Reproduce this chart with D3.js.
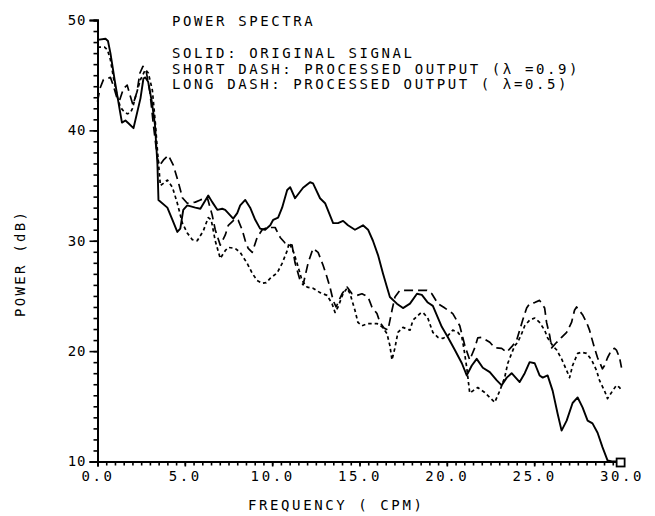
<!DOCTYPE html>
<html>
<head>
<meta charset="utf-8">
<script src="https://cdn.jsdelivr.net/npm/d3@7/dist/d3.min.js"></script>
<style>
  html, body { margin: 0; padding: 0; background: #fff; }
  svg text { font-family: "DejaVu Sans Mono", "Liberation Mono", monospace; fill: #000; }
</style>
</head>
<body>
<svg id="chart" width="655" height="516"></svg>
<script>
// Frequency axis (cycles per minute) and power axis (dB)
const xDomain = [0, 30];
const yDomain = [10, 50];
const xMajorTicks = [0, 5, 10, 15, 20, 25, 30];
const yMajorTicks = [10, 20, 30, 40, 50];

// Original signal spectrum (solid)
const solidFreq = [0, 0.46, 0.6, 0.74, 1.0, 1.29, 1.4, 1.6, 1.77, 2.06, 2.46, 2.63, 2.74, 2.9, 3.11, 3.29, 3.43, 3.49,
  4.0, 4.29, 4.57, 4.74, 4.91, 5.14, 5.6, 5.89, 6.34, 6.57, 6.86, 7.14, 7.31, 7.6, 7.77, 8.0, 8.17, 8.46, 8.74,
  9.03, 9.31, 9.6, 9.89, 10.06, 10.34, 10.57, 10.86, 11.03, 11.31, 11.77, 12.17, 12.34, 12.74, 13.03, 13.49,
  13.77, 14.06, 14.34, 14.74, 15.2, 15.49, 15.77, 16.06, 16.34, 16.57, 16.74, 17.14, 17.49, 17.89, 18.29,
  18.57, 18.91, 19.2, 19.71, 20.06, 20.46, 20.86, 21.14, 21.43, 21.71, 22.06, 22.46, 22.86, 23.14, 23.43,
  23.71, 24.17, 24.46, 24.74, 25.03, 25.31, 25.49, 25.77, 26.06, 26.34, 26.57, 26.86, 27.2, 27.49, 27.77,
  28.06, 28.34, 28.63, 28.91, 29.2, 29.45, 30];
const solidPower = [48.2, 48.3, 48.1, 47.0, 44.4, 41.7, 40.7, 40.9, 40.65, 40.2, 42.9, 44.7, 44.8, 44.4, 42.6, 40.5, 37.0, 33.7,
  33.0, 31.9, 30.8, 31.1, 32.8, 33.2, 33.0, 32.9, 34.1, 33.5, 32.8, 32.9, 32.8, 32.3, 32.0, 32.5, 33.2, 33.7, 33.0,
  31.9, 31.1, 31.0, 31.4, 31.9, 32.1, 33.0, 34.6, 34.85, 33.85, 34.8, 35.3, 35.2, 33.85, 33.4, 31.6,
  31.6, 31.8, 31.4, 31.0, 31.4, 31.0, 30.0, 28.7, 27.05, 25.8, 24.9, 24.3, 23.9, 24.3, 25.2,
  25.1, 24.4, 24.1, 22.2, 21.25, 20.1, 18.9, 17.8, 18.7, 19.3, 18.5, 18.1, 17.35, 16.9, 17.6,
  18.0, 17.2, 18.0, 19.0, 18.9, 17.8, 17.6, 17.8, 16.4, 14.35, 12.8, 13.7, 15.3, 15.8, 14.9,
  13.7, 13.45, 12.6, 11.3, 10.1, 10.0, 10.0];

// Processed output, lambda = 0.9 (short dash)
const shortFreq = [0, 0.4, 0.57, 0.74, 0.91, 1.14, 1.31, 1.49, 1.71, 1.89, 2.0, 2.17, 2.46, 2.74, 2.91, 3.14, 3.31, 3.43, 3.6,
  3.77, 4.0, 4.29, 4.57, 4.86, 5.14, 5.43, 5.71, 6.06, 6.34, 6.51, 6.74, 7.03, 7.31, 7.49, 7.89, 8.17, 8.57, 8.86,
  9.14, 9.43, 9.66, 9.89, 10.29, 10.57, 10.86, 10.97, 11.2, 11.43, 11.71, 12.0, 12.34, 12.74, 13.14, 13.43, 13.6,
  13.77, 14.06, 14.29, 14.46, 14.74, 14.91, 15.14, 15.49, 16.0, 16.29, 16.57, 16.74, 16.86, 17.03, 17.2, 17.49,
  17.89, 18.06, 18.46, 18.63, 18.91, 19.2, 19.49, 19.77, 20.06, 20.34, 20.63, 20.86, 20.97, 21.14, 21.31, 21.49,
  21.77, 22.17, 22.46, 22.74, 23.03, 23.31, 23.49, 23.71, 23.89, 24.06, 24.29, 24.46, 24.74, 25.03, 25.31, 25.6,
  25.77, 26.06, 26.29, 26.57, 26.86, 27.03, 27.2, 27.49, 27.71, 28.0, 28.29, 28.57, 28.74, 29.03, 29.2, 29.49,
  29.71, 29.89, 30];
const shortPower = [47.55, 47.55, 47.3, 46.4, 44.8, 43.0, 42.1, 41.75, 41.5, 41.6, 42.0, 43.0, 44.6, 45.5, 45.2, 43.65, 40.7, 38.2, 35.0,
  35.2, 35.5, 34.85, 33.4, 31.6, 30.7, 30.1, 30.0, 30.9, 32.1, 31.9, 30.0, 28.4, 29.1, 29.4, 29.3, 28.95, 27.95, 27.05,
  26.4, 26.15, 26.2, 26.6, 27.1, 27.95, 29.1, 29.8, 29.1, 27.95, 26.4, 25.8, 25.7, 25.3, 25.05, 24.3, 23.5,
  24.0, 25.2, 25.7, 25.2, 23.7, 22.6, 22.3, 22.5, 22.5, 22.2, 21.6, 20.5, 19.2, 20.3, 21.7, 22.15,
  21.9, 22.8, 23.4, 23.5, 23.0, 21.7, 21.25, 21.15, 21.4, 21.9, 21.7, 21.25, 20.3, 18.5, 16.2, 16.4,
  16.7, 16.25, 15.8, 15.35, 16.4, 17.6, 18.9, 19.8, 20.5, 20.8, 21.6, 22.3, 22.8, 23.0, 22.6, 21.9,
  21.2, 20.5, 20.1, 19.3, 18.25, 17.6, 18.7, 19.8, 19.9, 19.8, 19.2, 18.25, 17.35, 16.4, 15.7, 16.4,
  16.9, 16.7, 16.4];

// Processed output, lambda = 0.5 (long dash)
const longFreq = [0, 0.14, 0.34, 0.6, 0.74, 0.9, 1.1, 1.26, 1.49, 1.7, 1.86, 2.03, 2.26, 2.43, 2.6, 2.77, 3.0, 3.2, 3.43, 3.54,
  3.77, 4.06, 4.34, 4.63, 4.86, 5.14, 5.6, 5.89, 6.29, 6.57, 6.74, 7.03, 7.31, 7.49, 7.89, 8.06, 8.29, 8.46, 8.63,
  8.86, 9.14, 9.43, 9.71, 10.17, 10.46, 10.74, 11.14, 11.31, 11.6, 11.77, 12.06, 12.34, 12.63, 12.91, 13.14, 13.31,
  13.49, 13.66, 14.0, 14.29, 14.57, 14.86, 15.14, 15.49, 15.71, 16.0, 16.17, 16.4, 16.63, 16.86, 17.03, 17.31,
  17.77, 18.34, 18.86, 19.14, 19.49, 19.89, 20.34, 20.74, 21.03, 21.31, 21.6, 21.77, 22.0, 22.46, 22.74, 23.14,
  23.43, 23.77, 24.0, 24.17, 24.34, 24.57, 24.74, 25.03, 25.31, 25.6, 25.71, 25.89, 26.0, 26.29, 26.57, 26.86,
  27.14, 27.31, 27.43, 27.77, 28.0, 28.17, 28.29, 28.46, 28.63, 28.91, 29.03, 29.2, 29.43, 29.6, 29.71, 29.89, 30];
const longPower = [42.6, 43.8, 44.6, 44.7, 44.8, 44.1, 43.0, 42.7, 43.8, 44.1, 43.2, 42.3, 43.5, 45.2, 45.8, 45.5, 43.5, 40.5, 37.5, 36.8,
  37.3, 37.75, 36.85, 35.3, 33.9, 33.4, 33.5, 33.7, 33.9, 32.3, 31.0, 29.6, 30.5, 31.4, 32.0, 31.85, 30.95, 30.0, 29.3,
  28.95, 30.3, 31.0, 31.2, 31.2, 30.3, 29.8, 29.6, 28.0, 26.4, 26.0, 28.0, 29.3, 28.95, 27.8, 26.7, 25.8,
  24.6, 24.0, 25.2, 25.8, 25.2, 25.05, 25.2, 24.9, 24.0, 23.4, 22.6, 22.1, 21.9, 23.7, 24.9, 25.5,
  25.5, 25.5, 25.5, 25.2, 24.3, 23.9, 23.4, 22.3, 20.5, 19.2, 20.3, 21.2, 21.25, 20.8, 20.3, 20.25,
  19.9, 20.5, 21.0, 21.9, 22.8, 23.9, 24.3, 24.4, 24.6, 23.9, 22.6, 21.4, 20.3, 20.8, 21.25, 21.7,
  22.6, 23.7, 24.0, 23.3, 22.6, 21.9, 21.2, 20.25, 19.4, 18.4, 18.7, 19.4, 20.1, 20.25, 20.1, 19.4, 18.5];

const legendLines = [
  "SOLID: ORIGINAL SIGNAL",
  "SHORT DASH: PROCESSED OUTPUT (\u03bb =0.9)",
  "LONG DASH: PROCESSED OUTPUT ( \u03bb=0.5)"
];

const svg = d3.select("#chart");
const plot = { left: 97.5, right: 621.5, top: 20, bottom: 461.5 };

const x = d3.scaleLinear().domain(xDomain).range([plot.left, plot.right]);
const y = d3.scaleLinear().domain(yDomain).range([plot.bottom, plot.top]);

const letter = 2.6;

// Y axis: minor ticks every 1 dB, labelled majors every 10 dB
const yMinor = svg.append("g").attr("transform", `translate(${plot.left},0)`)
  .call(d3.axisLeft(y).tickValues(d3.range(10, 51, 1)).tickSize(4).tickFormat(""));
const yMajor = svg.append("g").attr("transform", `translate(${plot.left},0)`)
  .call(d3.axisLeft(y).tickValues(yMajorTicks).tickSize(8).tickPadding(3).tickFormat(d3.format("d")));

// X axis: minor ticks every 0.5, labelled majors every 5
const xMinor = svg.append("g").attr("transform", `translate(0,${plot.bottom})`)
  .call(d3.axisBottom(x).tickValues(d3.range(0, 30.01, 0.5)).tickSize(4).tickFormat(""));
const xMajor = svg.append("g").attr("transform", `translate(0,${plot.bottom})`)
  .call(d3.axisBottom(x).tickValues(xMajorTicks).tickSize(5).tickPadding(5).tickFormat(d3.format(".1f")));

[yMinor, yMajor, xMinor, xMajor].forEach(g => {
  g.select(".domain").attr("stroke", "#000").attr("stroke-width", 2);
  g.selectAll(".tick line").attr("stroke", "#000").attr("stroke-width", 1.6);
});
yMajor.selectAll(".tick text").attr("font-size", 14).attr("letter-spacing", 1).style("font-family", "DejaVu Sans Mono");
xMajor.selectAll(".tick text").attr("font-size", 14).attr("letter-spacing", letter).style("font-family", "DejaVu Sans Mono");

// Spectrum curves
const line = d3.line().x(d => x(d[0])).y(d => y(d[1]));
const series = [
  { f: solidFreq, p: solidPower, dash: null, w: 1.9 },
  { f: shortFreq, p: shortPower, dash: "3.5,3", w: 1.7 },
  { f: longFreq, p: longPower, dash: "9,5", w: 1.7 }
];
series.forEach(s => {
  svg.append("path")
    .datum(s.f.map((v, i) => [v, s.p[i]]))
    .attr("d", line)
    .attr("fill", "none")
    .attr("stroke", "#000")
    .attr("stroke-width", s.w)
    .attr("stroke-linejoin", "round")
    .attr("stroke-dasharray", s.dash);
});

// End marker of the original signal trace
svg.append("rect")
  .attr("x", x(29.95) - 4).attr("y", y(10) - 3)
  .attr("width", 8).attr("height", 8)
  .attr("fill", "#fff").attr("stroke", "#000").attr("stroke-width", 1.8);

// Title and legend text
svg.append("text").attr("x", 172).attr("y", 26)
  .attr("font-size", 14).attr("letter-spacing", letter).text("POWER SPECTRA");
legendLines.forEach((t, i) => {
  svg.append("text").attr("x", 172).attr("y", 58 + i * 15.5)
    .attr("font-size", 14).attr("letter-spacing", letter).text(t);
});

// Axis titles
svg.append("text").attr("x", 248).attr("y", 510)
  .attr("font-size", 14).attr("letter-spacing", letter).text("FREQUENCY ( CPM)");
svg.append("text")
  .attr("transform", "translate(25,317) rotate(-90)")
  .attr("font-size", 14).attr("letter-spacing", 2.3).text("POWER (dB)");
</script>
</body>
</html>
